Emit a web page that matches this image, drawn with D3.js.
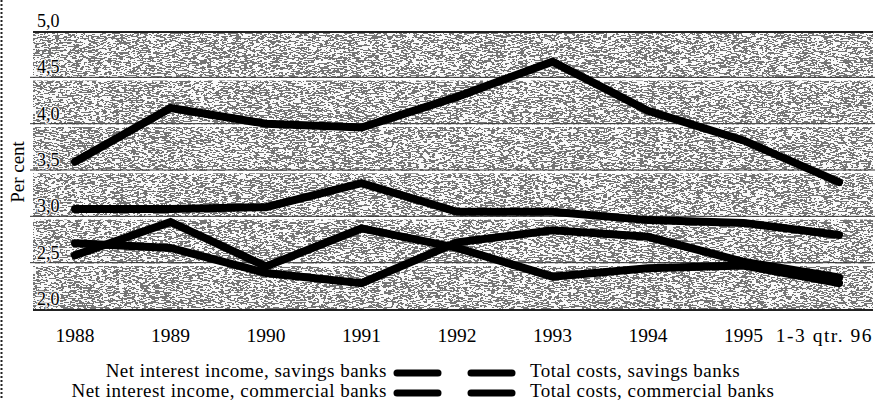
<!DOCTYPE html>
<html>
<head>
    <title>Net interest income and total costs</title>
    <script src="https://d3js.org/d3.v7.min.js"></script>
    <style>
        body {
            margin: 0;
            background: #fff;
        }
        svg text {
            font-family: "Liberation Serif", "Times New Roman", serif;
            fill: #000;
        }
        .ylab {
            stroke: #fff;
            stroke-width: 2.5px;
            stroke-opacity: 0.8;
            paint-order: stroke;
        }
    </style>
</head>
<body>
    <svg id="chart" width="875" height="400"></svg>

    <script>
        // data (per cent)
        const categories = ['1988', '1989', '1990', '1991', '1992', '1993', '1994', '1995', '1-3 qtr. 96'];
        const niiSavings = [3.60, 4.18, 4.01, 3.97, 4.30, 4.68, 4.15, 3.83, 3.38];
        const costsSavings = [3.09, 3.09, 3.11, 3.37, 3.06, 3.06, 2.97, 2.94, 2.81];
        const niiCommercial = [2.59, 2.95, 2.47, 2.88, 2.67, 2.36, 2.45, 2.48, 2.29];
        const costsCommercial = [2.72, 2.67, 2.40, 2.29, 2.73, 2.86, 2.79, 2.52, 2.35];
        const yTicks = [2.0, 2.5, 3.0, 3.5, 4.0, 4.5, 5.0];

        const seriesNames = [
            'Net interest income, savings banks',
            'Net interest income, commercial banks',
            'Total costs, savings banks',
            'Total costs, commercial banks'
        ];
        const series = [niiSavings, niiCommercial, costsSavings, costsCommercial];

        const plot = { left: 33, right: 873, top: 32, bottom: 310 };

        const svg = d3.select('#chart');

        const x = d3.scalePoint()
            .domain(categories)
            .range([75, 839]);

        const y = d3.scaleLinear()
            .domain([2, 5])
            .range([plot.bottom, plot.top]);

        // grain like the scanned halftone background
        const defs = svg.append('defs');
        const grain = defs.append('filter')
            .attr('id', 'grain')
            .attr('x', 0).attr('y', 0).attr('width', 1).attr('height', 1);
        grain.append('feTurbulence')
            .attr('type', 'fractalNoise')
            .attr('baseFrequency', '0.25 1.6')
            .attr('numOctaves', 2)
            .attr('seed', 7);
        grain.append('feColorMatrix')
            .attr('type', 'matrix')
            .attr('values', '1 0 0 0 0  1 0 0 0 0  1 0 0 0 0  0 0 0 0 1');
        const ct = grain.append('feComponentTransfer');
        ['R', 'G', 'B'].forEach(c => {
            ct.append('feFunc' + c).attr('type', 'discrete').attr('tableValues', '0.18 0.95');
        });

        svg.append('rect')
            .attr('x', plot.left)
            .attr('y', plot.top)
            .attr('width', plot.right - plot.left)
            .attr('height', plot.bottom - plot.top)
            .attr('fill', '#888')
            .attr('filter', 'url(#grain)');

        // gridlines: dark hairline with a white band under it
        const grid = svg.append('g');
        grid.selectAll('line.w')
            .data(yTicks.slice(1, -1))
            .enter().append('line')
            .attr('class', 'w')
            .attr('x1', plot.left - 3).attr('x2', plot.right + 2)
            .attr('y1', d => y(d) + 1).attr('y2', d => y(d) + 1)
            .attr('stroke', '#fff')
            .attr('stroke-width', 2.5);
        grid.selectAll('line.d')
            .data(yTicks.slice(1, -1))
            .enter().append('line')
            .attr('class', 'd')
            .attr('x1', plot.left - 3).attr('x2', plot.right + 2)
            .attr('y1', d => y(d) - 1).attr('y2', d => y(d) - 1)
            .attr('stroke', '#333')
            .attr('stroke-width', 1);

        // top and bottom frame
        svg.append('line')
            .attr('x1', plot.left).attr('x2', plot.right)
            .attr('y1', y(5)).attr('y2', y(5))
            .attr('stroke', '#222').attr('stroke-width', 2);
        svg.append('line')
            .attr('x1', plot.left).attr('x2', plot.right)
            .attr('y1', y(2)).attr('y2', y(2))
            .attr('stroke', '#222').attr('stroke-width', 2);

        // y labels sit just above their gridline, inside the plot
        svg.append('g')
            .selectAll('text')
            .data(yTicks)
            .enter().append('text')
            .attr('class', d => d < 5 ? 'ylab' : null)
            .attr('x', 37)
            .attr('y', d => y(d) - 5)
            .attr('font-size', 18)
            .text(d => d.toFixed(1).replace('.', ','));

        svg.append('text')
            .attr('transform', 'translate(24,172) rotate(-90)')
            .attr('text-anchor', 'middle')
            .attr('font-size', 19)
            .text('Per cent');

        // x labels, the last one pulled in to the right edge
        const last = categories.length - 1;
        svg.append('g')
            .selectAll('text')
            .data(categories)
            .enter().append('text')
            .attr('x', (d, i) => i === last ? plot.right : x(d))
            .attr('y', 342)
            .attr('text-anchor', (d, i) => i === last ? 'end' : 'middle')
            .attr('font-size', 19.5)
            .style('letter-spacing', (d, i) => i === last ? '1.5px' : null)
            .text(d => d);

        // series lines
        const line = d3.line()
            .x((d, i) => x(categories[i]))
            .y(d => y(d));

        svg.append('g')
            .selectAll('path')
            .data(series)
            .enter().append('path')
            .attr('d', line)
            .attr('fill', 'none')
            .attr('stroke', '#000')
            .attr('stroke-width', 8)
            .attr('stroke-linejoin', 'miter')
            .attr('stroke-linecap', 'round');

        // legend: two columns around the centre
        const legend = svg.append('g');
        seriesNames.forEach((name, i) => {
            const row = i % 2;
            const leftCol = i < 2;
            const base = 377 + row * 20;
            const sx = leftCol ? 397 : 471;
            legend.append('line')
                .attr('x1', sx).attr('x2', sx + 41)
                .attr('y1', base - 4).attr('y2', base - 4)
                .attr('stroke', '#000')
                .attr('stroke-width', 7)
                .attr('stroke-linecap', 'round');
            legend.append('text')
                .attr('x', leftCol ? 387 : 530)
                .attr('y', base)
                .attr('text-anchor', leftCol ? 'end' : 'start')
                .attr('font-size', 19)
                .style('letter-spacing', '0.5px')
                .text(name);
        });

        // dotted edge at the left of the scan
        svg.append('line')
            .attr('x1', 1.5).attr('x2', 1.5)
            .attr('y1', 0).attr('y2', 400)
            .attr('stroke', '#222')
            .attr('stroke-width', 2)
            .attr('stroke-dasharray', '2,2');
    </script>
</body>
</html>
